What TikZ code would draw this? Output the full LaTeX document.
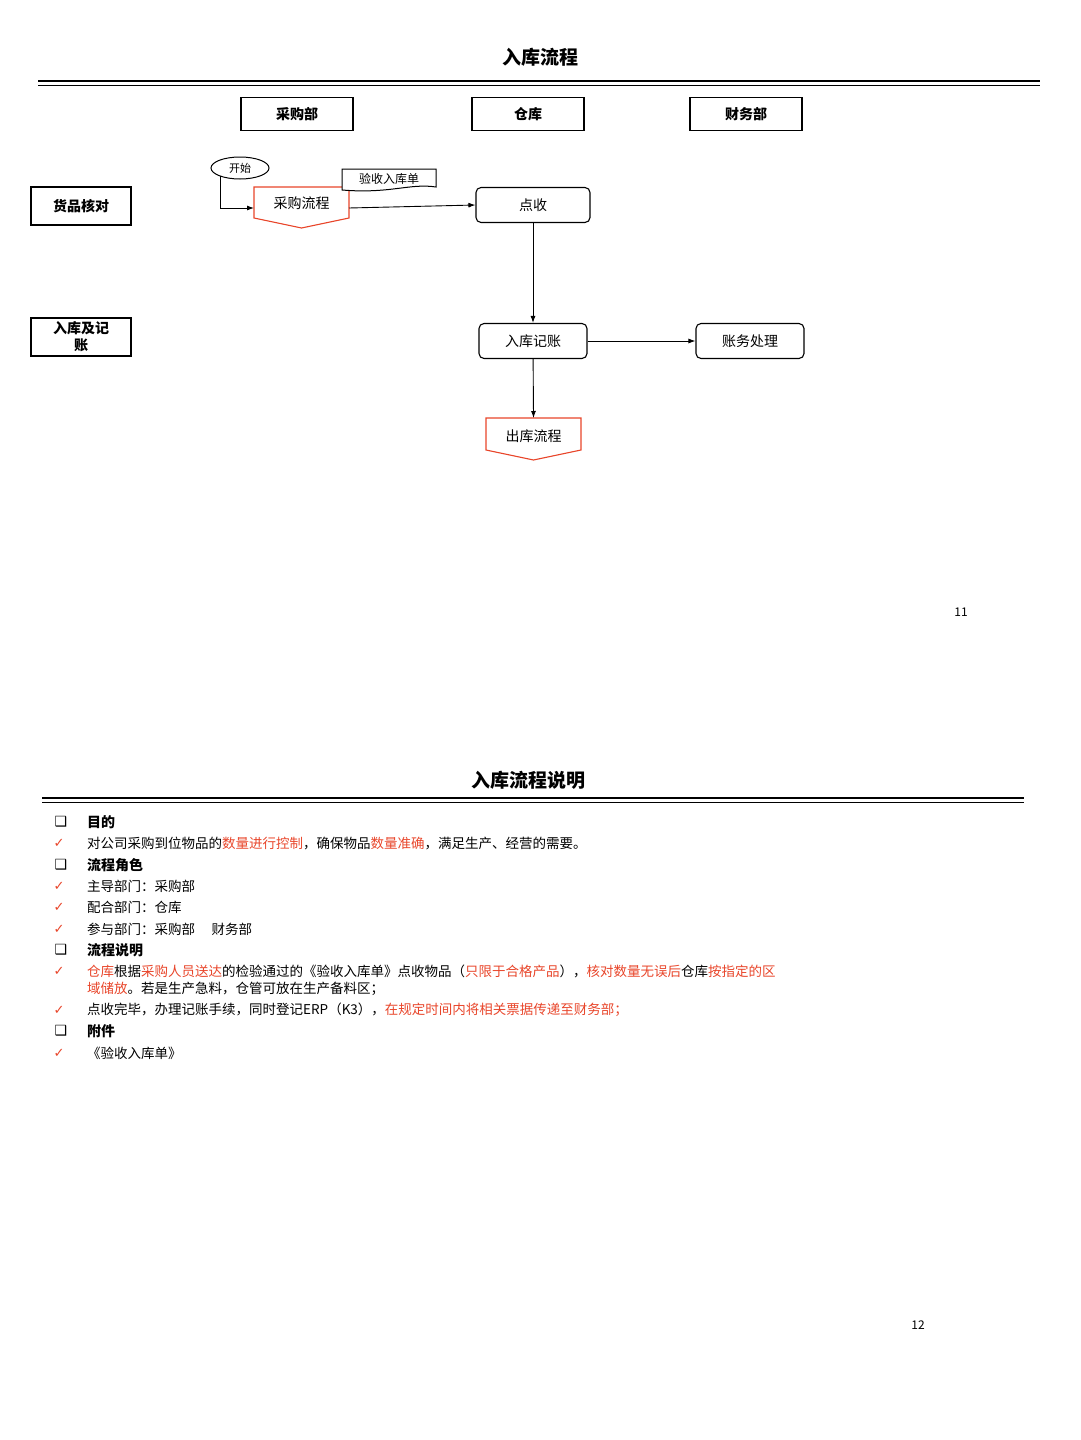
\documentclass[tikz,border=0pt]{standalone}
\usepackage{fontspec}
\setmainfont{Noto Sans CJK SC}
\newfontfamily\djvfont{DejaVu Sans}
\usetikzlibrary{arrows.meta,shapes.geometric}
\definecolor{rd}{HTML}{E8452A}
\tikzset{
 lane/.style={draw,line width=1.2pt,minimum width=112pt,minimum height=33pt,font=\fontsize{14}{16}\selectfont\bfseries},
 proc/.style={draw,line width=1.1pt,rounded corners=5pt,minimum width=114pt,minimum height=35pt,font=\fontsize{14}{16}\selectfont},
 arr/.style={line width=0.9pt,-{Latex[length=7pt,width=5pt]}},
 off/.style={draw=rd,line width=1.1pt},
 tx/.style={anchor=west,font=\fontsize{13.5}{16}\selectfont,inner sep=0pt},
 hd/.style={anchor=west,font=\fontsize{14}{16}\selectfont\bfseries,inner sep=0pt},
 ck/.style={anchor=center,text=rd,font=\djvfont\fontsize{13}{14}\selectfont,inner sep=0pt},
 bx/.style={anchor=center,font=\djvfont\fontsize{14}{14}\selectfont,inner sep=0pt}
}
\begin{document}
\begin{tikzpicture}[x=1pt,y=-1pt]
\useasboundingbox (0,0) rectangle (1080,1440);
% page 11
\node[font=\fontsize{19}{22}\selectfont\bfseries] (t1) at (540,57) {入库流程};
\draw[line width=2.2pt] (38,81) -- (1040,81);
\draw[line width=0.6pt] (38,85.5) -- (1040,85.5);
\node[lane] (l1) at (297,114) {采购部};
\node[lane] (l2) at (528,114) {仓库};
\node[lane] (l3) at (746,114) {财务部};
\node[lane,minimum width=100pt,minimum height=38pt] (r1) at (81,206) {货品核对};
\node[lane,minimum width=100pt,minimum height=38pt,align=center,font=\fontsize{14}{17}\selectfont\bfseries] (r2) at (81,337) {入库及记\\账};
\node[draw,ellipse,line width=1pt,minimum width=58pt,minimum height=22pt,inner sep=0pt,font=\fontsize{11}{12}\selectfont] (start) at (240,168) {开始};
% purchase off-page
\draw[off] (254,187) -- (349,187) -- (349,218) -- (301.5,228) -- (254,218) -- cycle;
\node[font=\fontsize{14}{16}\selectfont] (cg) at (301.5,203) {采购流程};
\coordinate (cgw) at (254,208);
\coordinate (cge) at (349,208);
\coordinate (sb) at (220,176);
% document
\draw[line width=1pt,fill=white] (342,169) -- (436,169) -- (436,187) .. controls (410,183) and (390,194) .. (342,190) -- cycle;
\node[font=\fontsize{12}{13}\selectfont] (doc) at (389,179) {验收入库单};
\node[proc] (dian) at (533,205) {点收};
\node[proc,minimum width=108pt] (ru) at (533,341) {入库记账};
\node[proc,minimum width=108pt] (zh) at (750,341) {账务处理};
\draw[off] (486,418) -- (581,418) -- (581,450) -- (533.5,460) -- (486,450) -- cycle;
\node[font=\fontsize{14}{16}\selectfont] (ck1) at (533.5,436) {出库流程};
\coordinate (ckn) at (533.5,418);
\draw[arr] (sb) |- (cgw);
\draw[arr] (cge) -- (dian.west);
\draw[arr] (dian) -- (ru);
\draw[arr] (ru) -- (zh);
\draw[arr] (ru) -- (ckn);
\node[font=\fontsize{12}{14}\selectfont] (p11) at (961,612) {11};
% page 12
\node[font=\fontsize{19}{22}\selectfont\bfseries] (t2) at (528,780) {入库流程说明};
\draw[line width=2.2pt] (42,798) -- (1024,798);
\draw[line width=0.6pt] (42,802.5) -- (1024,802.5);
\node[bx] (b1) at (61,822) {❑};
\node[hd] (h1) at (87,822) {目的};
\node[ck] (c1) at (59,843) {✓};
\node[tx] (x1) at (87,843) {对公司采购到位物品的\textcolor{rd}{数量进行控制}，确保物品\textcolor{rd}{数量准确}，满足生产、经营的需要。};
\node[bx] (b2) at (61,865) {❑};
\node[hd] (h2) at (87,865) {流程角色};
\node[ck] (c2) at (59,886) {✓};
\node[tx] (x2) at (87,886) {主导部门：采购部};
\node[ck] (c3) at (59,907) {✓};
\node[tx] (x3) at (87,907) {配合部门：仓库};
\node[ck] (c4) at (59,929) {✓};
\node[tx] (x4) at (87,929) {参与部门：采购部\quad\ 财务部};
\node[bx] (b3) at (61,950) {❑};
\node[hd] (h3) at (87,950) {流程说明};
\node[ck] (c5) at (59,971) {✓};
\node[tx] (x5) at (87,971) {\textcolor{rd}{仓库}根据\textcolor{rd}{采购人员送达}的检验通过的《验收入库单》点收物品（\textcolor{rd}{只限于合格产品}），\textcolor{rd}{核对数量无误后}仓库\textcolor{rd}{按指定的区}};
\node[tx] (x6) at (87,989) {\textcolor{rd}{域储放}。若是生产急料，仓管可放在生产备料区；};
\node[ck] (c6) at (59,1010) {✓};
\node[tx] (x7) at (87,1010) {点收完毕，办理记账手续，同时登记ERP（K3），\textcolor{rd}{在规定时间内将相关票据传递至财务部；}};
\node[bx] (b4) at (61,1031) {❑};
\node[hd] (h4) at (87,1031) {附件};
\node[ck] (c7) at (59,1053) {✓};
\node[tx] (x8) at (87,1053) {《验收入库单》};
\node[font=\fontsize{12}{14}\selectfont] (p12) at (918,1325) {12};
\end{tikzpicture}
\end{document}
